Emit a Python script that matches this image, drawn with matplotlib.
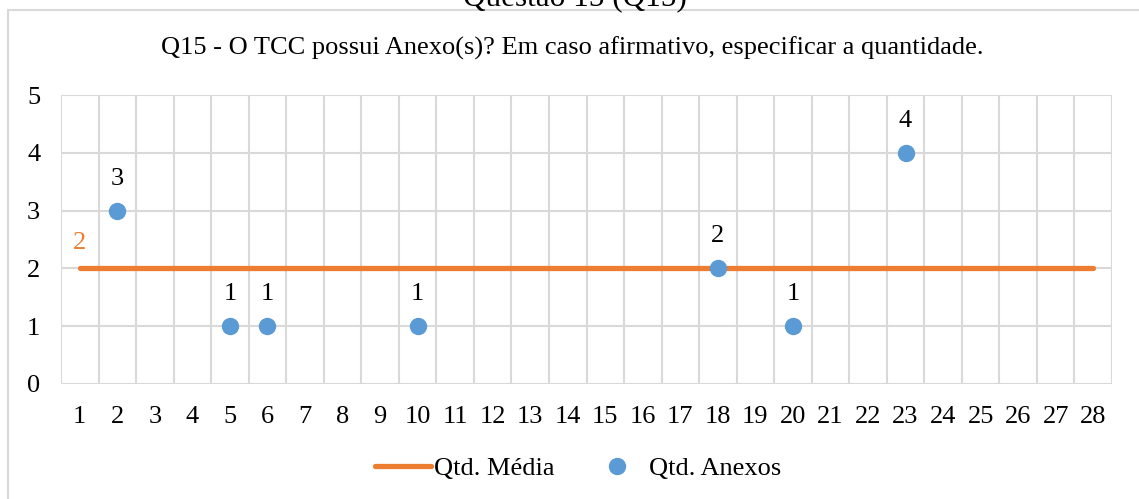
import matplotlib.pyplot as plt
from matplotlib.patches import Rectangle

# Dados do gráfico
categorias = list(range(1, 29))
x_anexos = [2, 5, 6, 10, 18, 20, 23]
qtd_anexos = [3, 1, 1, 1, 2, 1, 4]
qtd_media = [2] * len(categorias)

titulo = "Q15 - O TCC possui Anexo(s)? Em caso afirmativo, especificar a quantidade."
cabecalho = "Questão 15 (Q15)"

azul = "#5B9BD5"
laranja = "#ED7D31"
grade = "#D9D9D9"

plt.rcParams['font.family'] = ['Liberation Serif', 'DejaVu Serif']
plt.rcParams['font.size'] = 19

W, H = 1139, 499
fig = plt.figure(figsize=(W / 100, H / 100), dpi=100)

# moldura externa do gráfico (estilo Excel)
fig.patches.append(Rectangle((8 / W, -0.05), 1.2, 1 - 10 / H + 0.05, transform=fig.transFigure,
                             fill=False, edgecolor=grade, linewidth=1.5))
# cabeçalho cortado no topo, como no original
fig.text(575 / W, 1 - 5 / H, cabecalho, ha="center", va="baseline", fontsize=22.5)
fig.text(572 / W, 1 - 48 / H, titulo, ha="center", va="center")

left, right, top, bottom = 61, 1112, 95, 384
ax = fig.add_axes([left / W, 1 - bottom / H, (right - left) / W, (bottom - top) / H])

ax.set_xlim(0.5, len(categorias) + 0.5)
ax.set_ylim(0, 5)

# grade
for xv in [c - 0.5 for c in categorias] + [len(categorias) + 0.5]:
    ax.axvline(xv, color=grade, linewidth=1.5, zorder=0)
for yv in range(0, 6):
    ax.axhline(yv, color=grade, linewidth=1.5, zorder=0)

linha, = ax.plot(categorias, qtd_media, color=laranja, linewidth=3.8,
                 solid_capstyle="round", label="Qtd. Média", zorder=2)
pontos, = ax.plot(x_anexos, qtd_anexos, linestyle="none", marker="o", markersize=11.5,
                  color=azul, label="Qtd. Anexos", zorder=3)

ax.annotate(str(qtd_media[0]), (categorias[0], qtd_media[0]), xytext=(0, 18),
            textcoords="offset points", ha="center", va="center", color=laranja)
for xv, yv in zip(x_anexos, qtd_anexos):
    ax.annotate(str(yv), (xv, yv), xytext=(0, 23), textcoords="offset points",
                ha="center", va="center", color="black")

ax.set_xticks(categorias)
ax.set_xticklabels([str(c) for c in categorias])
ax.set_yticks(range(0, 6))
ax.tick_params(length=0)
ax.tick_params(axis="x", pad=16)
ax.tick_params(axis="y", pad=15)
for s in ax.spines.values():
    s.set_visible(False)

fig.legend(handles=[linha, pontos], loc="center", bbox_to_anchor=(578 / W, 1 - 468 / H),
           ncol=2, frameon=False, handlelength=2.1, handletextpad=0.15, columnspacing=1.3)

fig.savefig("out.png", dpi=100)
